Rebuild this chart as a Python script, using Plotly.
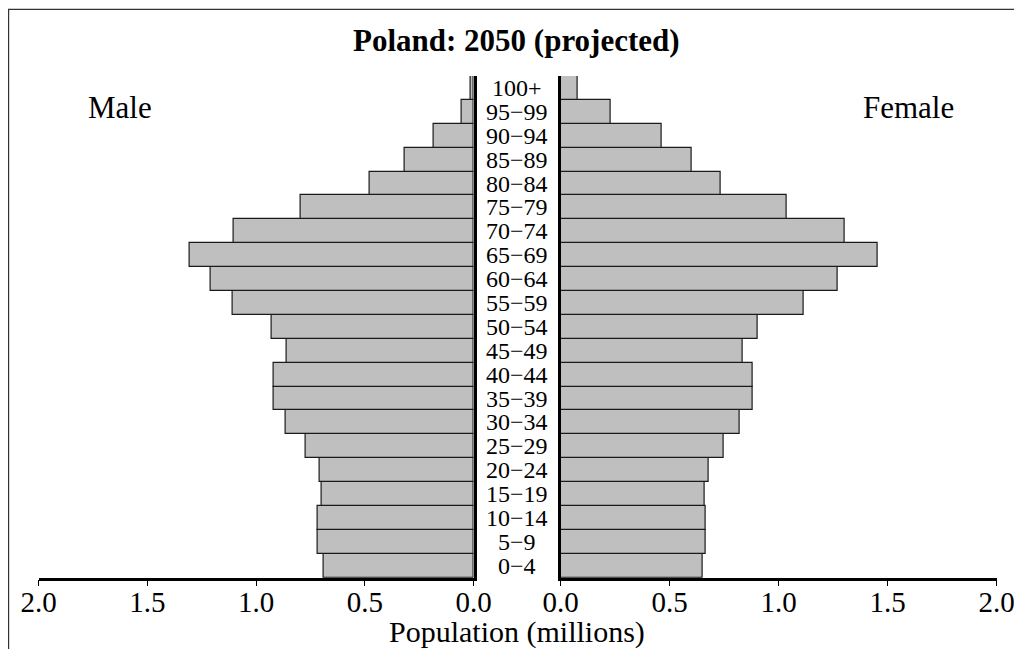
import plotly.graph_objects as go

ages = ["0−4", "5−9", "10−14", "15−19", "20−24", "25−29", "30−34", "35−39",
        "40−44", "45−49", "50−54", "55−59", "60−64", "65−69", "70−74", "75−79",
        "80−84", "85−89", "90−94", "95−99", "100+"]
male = [0.691, 0.719, 0.719, 0.701, 0.710, 0.774, 0.864, 0.921, 0.921, 0.860,
        0.929, 1.108, 1.208, 1.306, 1.103, 0.797, 0.480, 0.317, 0.183, 0.055, 0.016]
female = [0.651, 0.667, 0.667, 0.659, 0.679, 0.746, 0.821, 0.882, 0.882, 0.836,
          0.905, 1.115, 1.270, 1.454, 1.304, 1.038, 0.735, 0.601, 0.465, 0.228, 0.079]
tick_vals = [0.0, 0.5, 1.0, 1.5, 2.0]
tick_text = ["0.0", "0.5", "1.0", "1.5", "2.0"]

# page body has an 8px margin; figure sized to fit the 1022x657 window
OFF = 8
W, H = 1022 - 2 * OFF, 657 - 2 * OFF
FONT = "Liberation Serif, Times New Roman, serif"
idx = list(range(len(ages)))


def px(x):
    return (x - OFF) / W


def py(y):
    return 1 - (y - OFF) / H


fig = go.Figure()
bar_style = dict(marker=dict(color="#bfbfbf", line=dict(color="#1a1a1a", width=1.2)),
                 orientation="h", width=1.0, showlegend=False, hoverinfo="x+text")
fig.add_trace(go.Bar(x=male, y=idx, xaxis="x", yaxis="y", text=ages,
                     textposition="none", **bar_style))
fig.add_trace(go.Bar(x=female, y=idx, xaxis="x2", yaxis="y2", text=ages,
                     textposition="none", **bar_style))

ydom = [py(577.7), py(76)]
axis_common = dict(showline=True, linecolor="black", linewidth=2.5, ticks="outside",
                   ticklen=6, tickwidth=1.2, tickcolor="black", tickvals=tick_vals,
                   ticktext=tick_text, showgrid=False, zeroline=False,
                   ticklabelstandoff=-9, ticklabeloverflow="allow",
                   tickfont=dict(family=FONT, size=29, color="black"), fixedrange=True)
yaxis_common = dict(range=[-0.5, 20.5], showline=True, linecolor="black", linewidth=2.5,
                    showticklabels=False, ticks="", showgrid=False, zeroline=False,
                    fixedrange=True)
fig.update_layout(
    width=W, height=H,
    margin=dict(l=0, r=0, t=0, b=0, autoexpand=False),
    paper_bgcolor="white", plot_bgcolor="white",
    bargap=0,
    xaxis=dict(domain=[px(38.7), px(473.7)], range=[2, 0], anchor="y", **axis_common),
    xaxis2=dict(domain=[px(560.7), px(996.7)], range=[0, 2], anchor="y2", **axis_common),
    yaxis=dict(domain=ydom, anchor="x", side="right", **yaxis_common),
    yaxis2=dict(domain=ydom, anchor="x2", side="left", **yaxis_common),
    font=dict(family=FONT, color="black"),
)

annotations = []
for i, a in enumerate(ages):
    annotations.append(dict(x=px(517), y=i, xref="paper", yref="y", text=a,
                            showarrow=False, xanchor="center", yanchor="middle",
                            font=dict(family=FONT, size=24, color="black")))
annotations += [
    dict(x=px(517), y=py(40), xref="paper", yref="paper",
         text="<b>Poland: 2050 (projected)</b>", showarrow=False,
         xanchor="center", yanchor="middle", font=dict(family=FONT, size=31, color="black")),
    dict(x=px(120), y=py(108), xref="paper", yref="paper", text="Male",
         showarrow=False, xanchor="center", yanchor="middle",
         font=dict(family=FONT, size=31, color="black")),
    dict(x=px(908), y=py(108), xref="paper", yref="paper", text="Female",
         showarrow=False, xanchor="center", yanchor="middle",
         font=dict(family=FONT, size=31, color="black")),
    dict(x=px(517), y=py(632), xref="paper", yref="paper", text="Population (millions)",
         showarrow=False, xanchor="center", yanchor="middle",
         font=dict(family=FONT, size=30, color="black")),
]
fig.update_layout(annotations=annotations)

fig.add_shape(type="rect", xref="paper", yref="paper", x0=0.6 / W, y0=-0.2,
              x1=1.2, y1=1 - 1.3 / H, line=dict(color="#333333", width=1.2),
              fillcolor="rgba(0,0,0,0)", layer="below")

fig.write_html("out.html")
